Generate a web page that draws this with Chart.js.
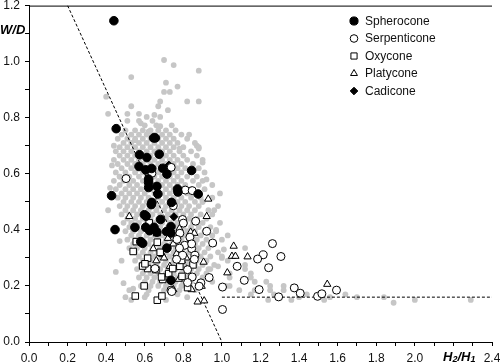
<!DOCTYPE html>
<html>
<head>
<meta charset="utf-8">
<script src="https://cdn.jsdelivr.net/npm/chart.js@4.4.1/dist/chart.umd.min.js"></script>
<style>
  body { margin: 0; background: #fff; }
  #shape { display: block; }
</style>
</head>
<body>
<canvas id="shape" width="500" height="363"></canvas>
<script>
// values: [H2/H1, W/D]
var spherocone = [
  [0.44, 1.146], [0.452, 0.761], [0.646, 0.728], [0.655, 0.728], [0.573, 0.668], [0.611, 0.658],
  [0.675, 0.670], [0.570, 0.626], [0.605, 0.614], [0.636, 0.619], [0.693, 0.620], [0.715, 0.599],
  [0.843, 0.612], [0.620, 0.581], [0.428, 0.522], [0.446, 0.401], [0.620, 0.569], [0.663, 0.555],
  [0.620, 0.551], [0.668, 0.528], [0.637, 0.498], [0.634, 0.490], [0.739, 0.498], [0.770, 0.546],
  [0.772, 0.535], [0.877, 0.528], [0.598, 0.454], [0.607, 0.449], [0.549, 0.409], [0.605, 0.409],
  [0.648, 0.409], [0.682, 0.437], [0.625, 0.397], [0.663, 0.392], [0.713, 0.394], [0.736, 0.412],
  [0.736, 0.389], [0.579, 0.358], [0.589, 0.352], [0.715, 0.335], [0.736, 0.220]
];
var serpenticone = [
  [0.737, 0.623], [0.637, 0.602], [0.503, 0.583], [0.810, 0.542], [0.846, 0.540], [0.748, 0.486],
  [0.796, 0.437], [0.800, 0.424], [0.864, 0.431], [0.921, 0.395], [0.952, 0.353], [0.782, 0.388],
  [0.767, 0.366], [0.834, 0.374], [0.843, 0.333], [0.860, 0.309], [0.857, 0.295], [0.796, 0.309],
  [0.765, 0.295], [0.822, 0.258], [0.846, 0.232], [0.822, 0.212], [0.891, 0.211], [0.934, 0.230],
  [0.882, 0.199], [0.736, 0.185], [0.740, 0.180], [1.003, 0.196], [1.003, 0.116], [1.079, 0.270],
  [1.116, 0.220], [1.262, 0.351], [1.214, 0.311], [1.185, 0.296], [1.306, 0.305], [1.242, 0.265],
  [1.193, 0.187], [1.294, 0.161], [1.375, 0.193], [1.406, 0.174], [1.496, 0.163], [1.518, 0.172],
  [1.594, 0.185], [0.653, 0.262], [0.807, 0.345], [0.780, 0.335], [0.843, 0.350]
];
var oxycone = [
  [0.556, 0.358], [0.540, 0.323], [0.665, 0.356], [0.615, 0.299], [0.615, 0.262], [0.589, 0.271],
  [0.658, 0.258], [0.693, 0.223], [0.724, 0.244], [0.597, 0.200], [0.551, 0.164], [0.665, 0.149],
  [0.689, 0.164], [0.782, 0.270], [0.793, 0.234], [0.822, 0.194], [0.791, 0.291], [0.601, 0.279],
  [0.687, 0.232], [0.623, 0.425], [0.680, 0.320], [0.745, 0.262], [0.850, 0.275]
];
var platycone = [
  [0.929, 0.510], [0.520, 0.448], [0.921, 0.448], [0.615, 0.421], [0.663, 0.386], [0.644, 0.333],
  [0.691, 0.312], [0.700, 0.300], [0.765, 0.315], [0.748, 0.350], [0.838, 0.392], [0.834, 0.356],
  [0.905, 0.285], [1.061, 0.342], [1.052, 0.306], [1.070, 0.306], [1.133, 0.304], [1.028, 0.247],
  [0.693, 0.226], [0.777, 0.224], [0.843, 0.187], [0.895, 0.199], [0.874, 0.143], [0.908, 0.147],
  [0.748, 0.187], [1.546, 0.206], [0.857, 0.388], [0.780, 0.405], [0.720, 0.370], [0.815, 0.300],
  [0.660, 0.290], [0.730, 0.270]
];
var cadicone = [[0.725, 0.631], [0.751, 0.447]];

// grey cloud, one row per W/D level: [W/D, H2/H1 ...]
var cloudRows = [
  [1.006, 0.70], [0.988, 0.75], [0.968, 0.88], [0.945, 0.53], [0.925, 0.71], [0.911, 0.77],
  [0.892, 0.70, 0.73], [0.875, 0.40], [0.858, 0.68, 0.82, 0.88], [0.841, 0.53, 0.67],
  [0.827, 0.72], [0.814, 0.41, 0.51, 0.57], [0.803, 0.61, 0.68], [0.789, 0.51, 0.57, 0.64],
  [0.773, 0.60, 0.66, 0.74], [0.755, 0.50, 0.55, 0.59, 0.63, 0.67, 0.71, 0.76],
  [0.74, 0.48, 0.53, 0.57, 0.61, 0.65, 0.69, 0.73, 0.79],
  [0.725, 0.46, 0.51, 0.55, 0.59, 0.63, 0.67, 0.71, 0.75, 0.82],
  [0.71, 0.49, 0.53, 0.57, 0.61, 0.65, 0.69, 0.73, 0.77, 0.86],
  [0.695, 0.47, 0.51, 0.55, 0.59, 0.63, 0.67, 0.71, 0.75, 0.80, 0.88],
  [0.68, 0.45, 0.49, 0.53, 0.57, 0.61, 0.65, 0.69, 0.73, 0.78, 0.84],
  [0.665, 0.47, 0.51, 0.55, 0.59, 0.63, 0.67, 0.71, 0.75, 0.80, 0.87],
  [0.65, 0.44, 0.49, 0.53, 0.57, 0.61, 0.65, 0.69, 0.73, 0.77, 0.82, 0.90],
  [0.635, 0.46, 0.51, 0.55, 0.59, 0.63, 0.67, 0.71, 0.75, 0.79, 0.85],
  [0.62, 0.48, 0.53, 0.57, 0.61, 0.65, 0.69, 0.73, 0.77, 0.81, 0.88],
  [0.605, 0.45, 0.50, 0.55, 0.59, 0.63, 0.67, 0.71, 0.75, 0.79, 0.84, 0.91],
  [0.59, 0.47, 0.52, 0.57, 0.61, 0.65, 0.69, 0.73, 0.77, 0.82, 0.87],
  [0.575, 0.44, 0.49, 0.54, 0.59, 0.63, 0.67, 0.71, 0.75, 0.79, 0.85, 0.90],
  [0.56, 0.47, 0.52, 0.56, 0.61, 0.65, 0.69, 0.73, 0.77, 0.81, 0.88, 0.95],
  [0.545, 0.45, 0.50, 0.54, 0.58, 0.63, 0.67, 0.71, 0.75, 0.80, 0.84, 0.91],
  [0.53, 0.48, 0.52, 0.56, 0.60, 0.65, 0.69, 0.73, 0.77, 0.82, 0.86, 0.99],
  [0.515, 0.46, 0.50, 0.54, 0.58, 0.62, 0.67, 0.71, 0.75, 0.79, 0.84, 0.89, 0.95],
  [0.50, 0.49, 0.53, 0.57, 0.61, 0.65, 0.69, 0.73, 0.77, 0.81, 0.86, 0.90],
  [0.485, 0.47, 0.51, 0.55, 0.59, 0.63, 0.67, 0.71, 0.75, 0.79, 0.83, 0.88, 0.98],
  [0.47, 0.50, 0.54, 0.58, 0.62, 0.66, 0.70, 0.74, 0.78, 0.82, 0.86, 0.93],
  [0.455, 0.48, 0.52, 0.56, 0.60, 0.64, 0.68, 0.72, 0.76, 0.80, 0.84, 0.89, 0.95],
  [0.44, 0.51, 0.55, 0.59, 0.63, 0.67, 0.71, 0.75, 0.79, 0.83, 0.87, 0.92],
  [0.425, 0.49, 0.53, 0.57, 0.61, 0.65, 0.69, 0.73, 0.77, 0.81, 0.85, 0.90, 0.99],
  [0.41, 0.52, 0.56, 0.60, 0.64, 0.68, 0.72, 0.76, 0.80, 0.84, 0.88, 0.94],
  [0.395, 0.50, 0.54, 0.58, 0.62, 0.66, 0.70, 0.74, 0.78, 0.82, 0.86, 0.91, 0.97],
  [0.38, 0.53, 0.57, 0.61, 0.65, 0.69, 0.73, 0.77, 0.81, 0.85, 0.89, 0.95, 1.03],
  [0.365, 0.51, 0.55, 0.59, 0.63, 0.67, 0.71, 0.75, 0.79, 0.83, 0.87, 0.92, 1.00],
  [0.35, 0.54, 0.58, 0.62, 0.66, 0.70, 0.74, 0.78, 0.82, 0.86, 0.90, 0.96],
  [0.335, 0.52, 0.56, 0.60, 0.64, 0.68, 0.72, 0.76, 0.80, 0.84, 0.88, 0.93, 1.12],
  [0.32, 0.55, 0.59, 0.63, 0.67, 0.71, 0.75, 0.79, 0.83, 0.87, 0.91, 0.98],
  [0.305, 0.57, 0.61, 0.65, 0.69, 0.73, 0.77, 0.81, 0.85, 0.89, 0.94, 1.00],
  [0.29, 0.55, 0.59, 0.63, 0.67, 0.71, 0.75, 0.79, 0.83, 0.87, 0.92, 1.03],
  [0.275, 0.58, 0.62, 0.66, 0.70, 0.74, 0.78, 0.82, 0.86, 0.90, 0.96, 1.12],
  [0.26, 0.56, 0.60, 0.64, 0.68, 0.72, 0.76, 0.80, 0.84, 0.88, 0.93, 1.12],
  [0.245, 0.59, 0.63, 0.67, 0.71, 0.75, 0.79, 0.83, 0.87, 0.92, 1.04, 1.15],
  [0.23, 0.57, 0.61, 0.65, 0.69, 0.73, 0.77, 0.81, 0.85, 0.90, 1.15],
  [0.215, 0.60, 0.64, 0.68, 0.72, 0.76, 0.80, 0.84, 0.89, 0.95, 1.17, 1.23],
  [0.20, 0.58, 0.63, 0.67, 0.71, 0.75, 0.79, 0.83, 1.04, 1.25, 1.32],
  [0.185, 0.52, 0.62, 0.70, 0.74, 0.78, 0.86, 1.09, 1.17, 1.25, 1.32],
  [0.17, 0.61, 0.69, 0.77, 1.15, 1.27, 1.44, 1.64],
  [0.16, 0.50, 0.60, 0.82, 1.40, 1.56, 1.70, 1.84],
  [0.15, 0.53, 0.71, 1.24, 1.36, 1.53, 2.00, 2.29],
  [0.14, 1.89]
];
// loose grey points round the edges of the cloud
var cloudStray = [
  [0.42, 0.55], [0.43, 0.63], [0.41, 0.47], [0.44, 0.70], [0.47, 0.36], [0.48, 0.29],
  [0.45, 0.25], [0.49, 0.21], [0.54, 0.19], [0.92, 0.58], [0.96, 0.47], [0.97, 0.40],
  [1.01, 0.33], [0.98, 0.27], [0.90, 0.64], [0.87, 0.70], [0.88, 0.69], [0.78, 0.69],
  [0.83, 0.74], [0.90, 0.50], [1.00, 0.30], [1.04, 0.23], [1.02, 0.20], [0.94, 0.26],
  [0.47, 0.59], [0.58, 0.78], [0.65, 0.81], [0.55, 0.72], [0.68, 0.77], [0.62, 0.75]
];

var boundarySlope = [[0.2, 1.2], [1.0, 0.0]];
var boundaryFlat = [[1.0, 0.16], [2.4, 0.16]];

var xLabelled = [0, 0.2, 0.4, 0.6, 0.8, 1.0, 1.2, 1.4, 1.6, 1.8, 2.0, 2.4];
var yLabelled = [0, 0.2, 0.4, 0.6, 0.8, 1.0, 1.2];
var legendNames = ['Spherocone', 'Serpenticone', 'Oxycone', 'Platycone', 'Cadicone'];

function toPoints(list) {
  return list.map(function (p) { return { x: p[0], y: p[1] }; });
}

var cloud = toPoints(cloudStray);
cloudRows.forEach(function (row) {
  for (var i = 1; i < row.length; i++) cloud.push({ x: row[i], y: row[0] });
});

function isLabelled(list, v) {
  return list.some(function (t) { return Math.abs(t - v) < 1e-6; });
}

var styles = [
  { pointStyle: 'circle', radius: 4.3, fill: '#000' },
  { pointStyle: 'circle', radius: 4, fill: '#fff' },
  { pointStyle: 'rect', radius: 4.6, fill: '#fff' },
  { pointStyle: 'triangle', radius: 4.2, fill: '#fff' },
  { pointStyle: 'rectRot', radius: 4, fill: '#000' }
];

function markerSet(label, list, st) {
  return {
    label: label,
    data: toPoints(list),
    pointStyle: st.pointStyle,
    pointRadius: st.radius,
    backgroundColor: st.fill,
    borderColor: '#000',
    borderWidth: 1
  };
}

var legendBox = {
  id: 'legendBox',
  afterDraw: function (chart) {
    var ctx = chart.ctx;
    ctx.save();
    ctx.font = '12px "Liberation Sans", Arial, sans-serif';
    ctx.textBaseline = 'middle';
    legendNames.forEach(function (name, i) {
      var y = 21 + i * 17.5;
      var st = styles[i];
      ctx.fillStyle = st.fill;
      ctx.strokeStyle = '#000';
      ctx.lineWidth = 1;
      Chart.helpers.drawPoint(ctx, { pointStyle: st.pointStyle, radius: st.radius * 0.95, borderWidth: 1, rotation: 0 }, 354, y);
      ctx.fillStyle = '#111';
      ctx.fillText(name, 365, y + 0.5);
    });

    // top frame line
    var a = chart.chartArea;
    ctx.strokeStyle = '#000';
    ctx.lineWidth = 1;
    ctx.beginPath();
    ctx.moveTo(a.left, a.top + 0.5);
    ctx.lineTo(a.right, a.top + 0.5);
    ctx.stroke();

    // axis titles
    ctx.fillStyle = '#000';
    ctx.textBaseline = 'middle';
    ctx.font = 'italic bold 13px "Liberation Sans", Arial, sans-serif';
    ctx.fillText('W/D', 0, 30);
    var x = 443, yb = 357;
    var big = 'italic bold 13px "Liberation Sans", Arial, sans-serif';
    var small = 'italic bold 9px "Liberation Sans", Arial, sans-serif';
    [['H', big, 0], ['2', small, 3], ['/', big, 0], ['H', big, 0], ['1', small, 3]].forEach(function (part) {
      ctx.font = part[1];
      ctx.fillText(part[0], x, yb + part[2]);
      x += ctx.measureText(part[0]).width;
    });
    ctx.restore();
  }
};

var axisFont = { family: '"Liberation Sans", Arial, sans-serif', size: 12 };

new Chart(document.getElementById('shape'), {
  type: 'scatter',
  data: {
    datasets: [
      markerSet('Spherocone', spherocone, styles[0]),
      markerSet('Serpenticone', serpenticone, styles[1]),
      markerSet('Oxycone', oxycone, styles[2]),
      markerSet('Platycone', platycone, styles[3]),
      markerSet('Cadicone', cadicone, styles[4]),
      {
        label: 'slope', data: toPoints(boundarySlope), showLine: true, pointRadius: 0,
        borderColor: '#000', borderWidth: 1, borderDash: [3, 2]
      },
      {
        label: 'flat', data: toPoints(boundaryFlat), showLine: true, pointRadius: 0,
        borderColor: '#000', borderWidth: 1, borderDash: [3, 2]
      },
      {
        label: 'all', data: cloud, pointStyle: 'circle', pointRadius: 2.9,
        backgroundColor: '#c6c6c6', borderWidth: 0
      }
    ]
  },
  options: {
    responsive: false,
    animation: false,
    layout: { padding: { top: 4, right: 8, left: 0, bottom: 0 } },
    plugins: { legend: { display: false }, tooltip: { enabled: false } },
    scales: {
      x: {
        type: 'linear', min: 0, max: 2.4,
        afterFit: function (s) { s.height = 21; s.paddingLeft = 0; s.paddingRight = 0; },
        grid: { drawOnChartArea: false, tickLength: 4, tickColor: '#000' },
        border: { color: '#000', width: 1 },
        ticks: {
          stepSize: 0.1, autoSkip: false, maxRotation: 0, padding: 5,
          color: '#111', font: axisFont,
          callback: function (v) { return isLabelled(xLabelled, v) ? v.toFixed(1) : ''; }
        }
      },
      y: {
        type: 'linear', min: 0, max: 1.2,
        afterFit: function (s) { s.width = 29; s.paddingTop = 0; s.paddingBottom = 0; },
        grid: { drawOnChartArea: false, tickLength: 4, tickColor: '#000' },
        border: { color: '#000', width: 1 },
        ticks: {
          stepSize: 0.1, autoSkip: false, padding: 5,
          color: '#111', font: axisFont,
          callback: function (v) { return isLabelled(yLabelled, v) ? v.toFixed(1) : ''; }
        }
      }
    }
  },
  plugins: [legendBox]
});
</script>
</body>
</html>
